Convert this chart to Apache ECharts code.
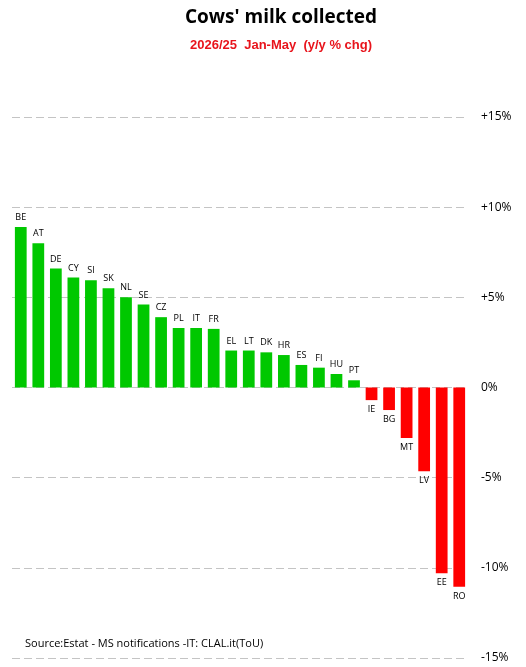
<!DOCTYPE html>
<html>
<head>
<meta charset="utf-8" />
<script src="https://cdn.jsdelivr.net/npm/echarts@6/dist/echarts.min.js"></script>
<title>Cows' milk collected</title>
<style>
  html, body { margin: 0; padding: 0; background: #fff; }
  #main { width: 526px; height: 667px; }
</style>
</head>
<body>
<div id="main"></div>
<script type="text/javascript">
var countries = ['BE','AT','DE','CY','SI','SK','NL','SE','CZ','PL','IT','FR','EL','LT','DK','HR','ES','FI','HU','PT','IE','BG','MT','LV','EE','RO'];
var changes = [8.9, 8.0, 6.6, 6.1, 5.95, 5.5, 5.0, 4.6, 3.9, 3.3, 3.3, 3.25, 2.05, 2.05, 1.95, 1.8, 1.25, 1.1, 0.75, 0.4, -0.7, -1.25, -2.8, -4.65, -10.3, -11.05];
var tickValues = [-15, -10, -5, 0, 5, 10, 15];

var myChart = echarts.init(document.getElementById('main'));

var barData = [];
for (var i = 0; i < changes.length; i++) {
  var v = changes[i];
  barData.push({
    value: v,
    itemStyle: { color: v >= 0 ? '#00c800' : '#ff0000' },
    label: { position: v >= 0 ? 'top' : 'bottom' }
  });
}

var option = {
  backgroundColor: '#ffffff',
  animation: false,
  title: [
    {
      text: "Cows' milk collected",
      left: 276, top: 3, textAlign: 'center',
      textStyle: { fontFamily: 'Open Sans', fontWeight: 'bold', fontSize: 19, color: '#000' }
    },
    {
      text: '2026/25  Jan-May  (y/y % chg)',
      left: 276, top: 34, textAlign: 'center',
      textStyle: { fontFamily: 'Liberation Sans', fontWeight: 'bold', fontSize: 13, color: '#e8141c' }
    },
    {
      text: 'Source:Estat - MS notifications -IT: CLAL.it(ToU)',
      left: 20, top: 633,
      textStyle: { fontFamily: 'Open Sans', fontWeight: 'normal', fontSize: 11, color: '#000' }
    }
  ],
  grid: { left: 12, right: 58, top: 117, bottom: 9, containLabel: false },
  xAxis: {
    type: 'category',
    data: countries,
    axisLine: { show: false },
    axisTick: { show: false },
    axisLabel: { show: false }
  },
  yAxis: {
    type: 'value',
    position: 'right',
    min: -15, max: 15, interval: 5,
    axisLine: { show: false },
    axisTick: { show: false },
    axisLabel: {
      margin: 13,
      fontFamily: 'Open Sans', fontSize: 12, color: '#000',
      formatter: function (v) {
        if (v > 0) return '+' + v + '%';
        return v + '%';
      }
    },
    splitLine: { show: true, lineStyle: { color: '#c4c4c4', type: [8, 4], width: 1 } }
  },
  series: [{
    type: 'bar',
    data: barData,
    barCategoryGap: '33%',
    label: {
      show: true,
      formatter: function (p) { return countries[p.dataIndex]; },
      fontFamily: 'Open Sans', fontSize: 9, color: '#000', distance: 5
    }
  }]
};
myChart.setOption(option);
</script>
</body>
</html>
